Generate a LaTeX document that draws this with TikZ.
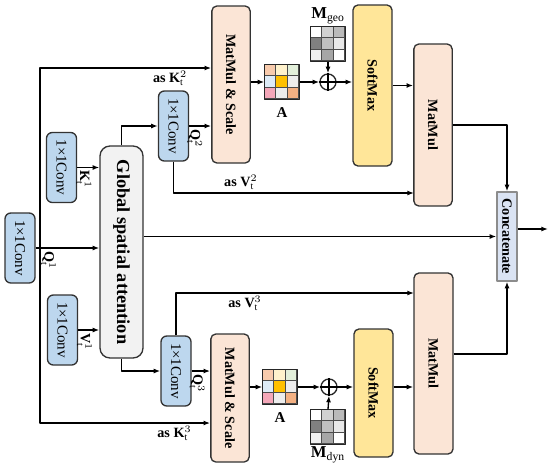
\documentclass[tikz,border=0pt]{standalone}
\usepackage{fontspec}
\setmainfont{Liberation Serif}
\usetikzlibrary{positioning, calc, arrows.meta}
\definecolor{convblue}{HTML}{BDD7EE}
\definecolor{gsagray}{HTML}{F2F2F2}
\definecolor{peach}{HTML}{FBE5D6}
\definecolor{softyellow}{HTML}{FFE699}
\definecolor{catblue}{HTML}{DAE3F3}
\definecolor{cpeach}{HTML}{F8CBAD}
\definecolor{cyellow}{HTML}{FFF2CC}
\definecolor{cgreen}{HTML}{E2EFDA}
\definecolor{cblue}{HTML}{DDEBF7}
\definecolor{cgold}{HTML}{FFC000}
\definecolor{clight}{HTML}{EDEDED}
\definecolor{cpink}{HTML}{F4A7B9}
\definecolor{corange}{HTML}{F4B183}
% 3x3 coloured matrix drawn inside a named node
\newcommand\matcells[2]{%
  \foreach \c [count=\i from 0] in {#2}{%
    \pgfmathtruncatemacro\mrow{\i/3}%
    \pgfmathtruncatemacro\mcol{mod(\i,3)}%
    \filldraw[fill=\c, draw=black!70, thin] ($(#1.north west)+(\mcol*11.333,\mrow*11.333)$) rectangle ++(11.333,11.333);
  }%
  \draw[black!85] (#1.north west) rectangle (#1.south east);
}
\newcommand\vtext[1]{\rotatebox{-90}{#1}}

\begin{document}
\begin{tikzpicture}[x=0.6pt, y=-0.6pt, thick, line join=round,
    >={Latex[length=4pt,width=3pt]},
    conv/.style={draw=black!80, fill=convblue, rounded corners=3.5pt, minimum width=18pt,
      minimum height=42pt, inner sep=0pt, font=\fontsize{9}{10}\selectfont},
    block/.style={draw=black!80, rounded corners=3pt, minimum width=23pt, inner sep=0pt,
      font=\bfseries\fontsize{8.5}{10}\selectfont},
    grid/.style={minimum size=20.4pt, inner sep=0pt},
    oplus/.style={draw=black!85, circle, minimum size=9.6pt, inner sep=0pt},
    lbl/.style={inner sep=1.5pt, font=\fontsize{8.5}{10}\selectfont}]
  \useasboundingbox (0,0) rectangle (550,466);

  % Input convolutions and global spatial attention
  \node[conv] (convQ) at (20,248) {\vtext{1\texttimes1Conv}};
  \node[conv] (convK) at (61.5,167.5) {\vtext{1\texttimes1Conv}};
  \node[conv] (convV) at (62.5,330) {\vtext{1\texttimes1Conv}};
  \node[block, fill=gsagray, rounded corners=6pt, minimum width=25.8pt, minimum height=127.2pt,
    font=\bfseries\fontsize{11}{12}\selectfont] (gsa) at (121.5,252) {\vtext{Global spatial attention}};

  % Upper branch
  \node[conv] (conv2) at (173.5,126) {\vtext{1\texttimes1Conv}};
  \node[block, fill=peach, minimum height=94.2pt] (ms2) at (231,84.5) {\vtext{MatMul \& Scale}};
  \node[grid] (A2) at (282,82) {};
  \node[oplus] (plus2) at (328,82) {};
  \node[grid] (Mgeo) at (328,44) {};
  \node[block, fill=softyellow, minimum width=23.4pt, minimum height=96.6pt] (sm2) at (372.5,85.5) {\vtext{SoftMax}};
  \node[block, fill=peach, minimum height=97.2pt] (mm2) at (433,125) {\vtext{MatMul}};

  % Lower branch
  \node[conv] (conv3) at (176,371) {\vtext{1\texttimes1Conv}};
  \node[block, fill=peach, minimum height=76.8pt] (ms3) at (230,398) {\vtext{MatMul \& Scale}};
  \node[grid] (A3) at (280,387) {};
  \node[oplus] (plus3) at (329,387) {};
  \node[grid] (Mdyn) at (328,427) {};
  \node[block, fill=softyellow, minimum width=23.4pt, minimum height=76.8pt] (sm3) at (373.5,393) {\vtext{SoftMax}};
  \node[block, fill=peach, minimum width=23.4pt, minimum height=108.6pt] (mm3) at (433.5,363.5) {\vtext{MatMul}};

  % Concatenation
  \node[block, draw=black!45, fill=catblue, rounded corners=0pt, minimum width=12pt, minimum height=53.4pt] (cat) at (507,236.5) {\vtext{Concatenate}};
  \coordinate (out) at (548,229);

  % Matrices
  \matcells{A2}{cpeach,cyellow,cgreen,cblue,cgold,clight,cpink,clight,corange}
  \matcells{A3}{cpeach,cyellow,cgreen,cblue,cgold,clight,cpink,clight,corange}
  \matcells{Mgeo}{white,black!18,black!27,black!50,black!25,black!9,black!6,black!35,white}
  \matcells{Mdyn}{white,black!18,black!27,black!50,black!25,black!9,black!6,black!35,white}
  \node[below=1pt of A2, font=\bfseries\fontsize{9}{10}\selectfont] {A};
  \node[below=1pt of A3, font=\bfseries\fontsize{9}{10}\selectfont] {A};
  \node[above=0pt of Mgeo, inner sep=1pt, font=\fontsize{10}{11}\selectfont] {$\mathbf{M}_{\mathrm{geo}}$};
  \node[below=0pt of Mdyn, inner sep=1pt, font=\fontsize{10}{11}\selectfont] {$\mathbf{M}_{\mathrm{dyn}}$};
  \foreach \p in {plus2, plus3}
    \draw (\p.north) -- (\p.south) (\p.west) -- (\p.east);

  % Inputs to the attention block
  \draw[->] (convQ.east) -- (convQ.east -| gsa.west)
    node[lbl, pos=0.2, below] {\vtext{$\mathbf{Q}_{\mathrm{t}}^{1}$}};
  \draw[->] (convK.east) -- (convK.east -| gsa.west)
    node[lbl, pos=0.3, below] {\vtext{$\mathbf{K}_{\mathrm{t}}^{1}$}};
  \draw[->] (convV.east) -- (convV.east -| gsa.west)
    node[lbl, pos=0.3, below] {\vtext{$\mathbf{V}_{\mathrm{t}}^{1}$}};

  % Key paths along the left edge
  \coordinate (kTop) at (40,68);
  \coordinate (kBot) at (40,423);
  \draw[->] (kBot) -- (kTop) -- (kTop -| ms2.west)
    node[lbl, pos=0.76, below] {\textbf{as} $\mathbf{K}_{\mathrm{t}}^{2}$};
  \draw[->] (kTop) -- (kBot) -- (kBot -| ms3.west)
    node[lbl, pos=0.79, below] {\textbf{as} $\mathbf{K}_{\mathrm{t}}^{3}$};

  % Upper attention
  \draw[->] (gsa.north) |- (conv2.west);
  \draw[->] (conv2.east) -- (conv2.east -| ms2.west)
    node[lbl, pos=0.25, below] {\vtext{$\mathbf{Q}_{\mathrm{t}}^{2}$}};
  \coordinate (v2in) at (414,193);
  \draw[->] (conv2.south) |- (v2in)
    node[lbl, pos=0.64, above] {\textbf{as} $\mathbf{V}_{\mathrm{t}}^{2}$};
  \draw[->] (A2.west -| ms2.east) -- (A2.west);
  \draw[->] (A2.east) -- (plus2.west);
  \draw[->] (Mgeo.south) -- (plus2.north);
  \draw[->] (plus2.east) -- (plus2.east -| sm2.west);
  \draw[->] (sm2.east) -- (sm2.east -| mm2.west);
  \draw[->] (mm2.east) -| (cat.north);

  % Middle path and output
  \draw[->] (gsa.east |- cat.west) -- (cat.west);
  \draw[->] (cat.east |- out) -- (out);

  % Lower attention
  \draw[->] (gsa.south) |- (conv3.west);
  \draw[->] (conv3.east) -- (conv3.east -| ms3.west)
    node[lbl, pos=0.3, below] {\vtext{$\mathbf{Q}_{\mathrm{t}}^{3}$}};
  \coordinate (v3in) at (414,293);
  \draw[->] (conv3.north) |- (v3in)
    node[lbl, pos=0.645, below] {\textbf{as} $\mathbf{V}_{\mathrm{t}}^{3}$};
  \draw[->] (A3.west -| ms3.east) -- (A3.west);
  \draw[->] (A3.east) -- (plus3.west);
  \draw[->] (Mdyn.north) -- (plus3.south);
  \draw[->] (plus3.east) -- (plus3.east -| sm3.west);
  \draw[->] (sm3.east |- plus3) -- (sm3.east |- plus3 -| mm3.west);
  \draw[->] (mm3.east |- 0,354) -| (cat.south);
\end{tikzpicture}
\end{document}
